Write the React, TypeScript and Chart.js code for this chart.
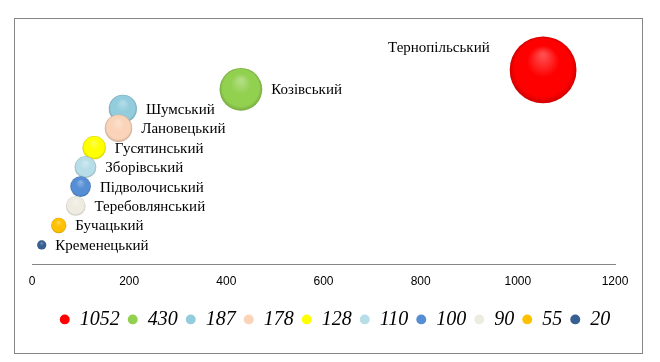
import React, { useEffect, useRef } from "react";
import { Chart, registerables } from "chart.js";

Chart.register(...registerables);

const districts = [
  "Тернопільський",
  "Козівський",
  "Шумський",
  "Лановецький",
  "Гусятинський",
  "Зборівський",
  "Підволочиський",
  "Теребовлянський",
  "Бучацький",
  "Кременецький",
];
const values = [1052, 430, 187, 178, 128, 110, 100, 90, 55, 20];
const ranks = [10, 9, 8, 7, 6, 5, 4, 3, 2, 1];
const colors = [
  "#FF0000",
  "#92D050",
  "#93CDDD",
  "#FAD3B8",
  "#FFFF00",
  "#B7DEE8",
  "#558ED5",
  "#EEECE1",
  "#FFC000",
  "#376092",
];
const xTicks = [0, 200, 400, 600, 800, 1000, 1200];

function mix(hex: string, target: number, t: number): string {
  const n = parseInt(hex.slice(1), 16);
  const r = (n >> 16) & 255;
  const g = (n >> 8) & 255;
  const b = n & 255;
  const f = (c: number) => Math.round(c + (target - c) * t);
  return `rgb(${f(r)},${f(g)},${f(b)})`;
}

const sphereFill = (i: number) => (ctx: any) => {
  const base = colors[i];
  if (ctx.type !== "data" || !ctx.raw) return base;
  const chart = ctx.chart;
  const xs = chart.scales && chart.scales.x;
  const ys = chart.scales && chart.scales.y;
  if (!xs || !ys) return base;
  const cx = xs.getPixelForValue(ctx.raw.x);
  const cy = ys.getPixelForValue(ctx.raw.y);
  const r = Math.sqrt(ctx.raw.x) * 1.03;
  if (![cx, cy, r].every((n) => Number.isFinite(n))) return base;
  const g = chart.ctx.createRadialGradient(
    cx,
    cy - r * 0.45,
    r * 0.05,
    cx,
    cy,
    r
  );
  g.addColorStop(0, mix(base, 255, 0.3));
  g.addColorStop(0.45, base);
  g.addColorStop(0.85, base);
  g.addColorStop(1, mix(base, 0, 0.18));
  return g;
};

const labelPlugin = {
  id: "bubbleLabels",
  afterDatasetsDraw(chart: any) {
    const ctx = chart.ctx;
    ctx.save();
    ctx.font = "15px 'Liberation Serif', serif";
    ctx.fillStyle = "#000";
    ctx.textBaseline = "middle";
    chart.data.datasets.forEach((_ds: any, i: number) => {
      const meta = chart.getDatasetMeta(i);
      const el = meta.data[0];
      if (!el) return;
      const r = el.options.radius;
      if (i === 0) {
        ctx.textAlign = "right";
        ctx.fillText(districts[i], el.x - r - 20, el.y - 22);
      } else {
        ctx.textAlign = "left";
        ctx.fillText(districts[i], el.x + r + 9, el.y + 1);
      }
    });
    ctx.restore();
  },
};

export default function App() {
  const ref = useRef<HTMLCanvasElement>(null);

  useEffect(() => {
    if (!ref.current) return;
    const chart = new Chart(ref.current, {
      type: "bubble",
      data: {
        datasets: values.map((v, i) => ({
          label: String(v),
          data: [{ x: v, y: ranks[i] }],
          radius: Math.sqrt(v) * 1.03,
          backgroundColor: sphereFill(i),
          borderWidth: 0,
          order: values.length - i,
          clip: false as any,
        })),
      },
      options: {
        responsive: false,
        animation: false,
        events: [],
        layout: {
          autoPadding: false,
          padding: { left: 17, right: 4, top: 12, bottom: 13.6 },
        },
        scales: {
          x: {
            type: "linear",
            min: 0,
            max: 1200,
            afterBuildTicks: (s: any) => {
              s.ticks = xTicks.map((value) => ({ value }));
            },
            afterFit: (s: any) => {
              s.height = 37;
            },
            grid: { display: false, drawTicks: false },
            border: { display: true, color: "#868686", width: 1 },
            ticks: {
              padding: 10,
              color: "#000",
              font: { family: "'Liberation Sans', sans-serif", size: 12 },
              maxRotation: 0,
              callback: (v: any) => String(v),
            },
          },
          y: {
            type: "linear",
            position: "right",
            min: 0,
            max: 12,
            grid: { display: false, drawTicks: false },
            border: { display: false },
            ticks: { display: false },
            afterFit: (s: any) => {
              s.width = 23;
            },
          },
        },
        plugins: {
          tooltip: { enabled: false },
          legend: {
            position: "bottom",
            labels: {
              usePointStyle: true,
              boxWidth: 10,
              boxHeight: 7,
              padding: 8,
              color: "#000",
              font: {
                family: "'Liberation Serif', serif",
                size: 20,
                style: "italic",
              },
              generateLabels: (ch: any) =>
                ch.data.datasets.map((ds: any, i: number) => ({
                  text: String(ds.label),
                  fillStyle: colors[i],
                  strokeStyle: colors[i],
                  lineWidth: 0,
                  pointStyle: "circle",
                  hidden: false,
                  datasetIndex: i,
                  fontColor: "#000",
                })),
            },
          },
        },
      },
      plugins: [labelPlugin],
    } as any);
    return () => chart.destroy();
  }, []);

  return (
    <div
      style={{
        position: "absolute",
        left: 14,
        top: 18,
        width: 629,
        height: 336,
        border: "1px solid #868686",
        boxSizing: "border-box",
        background: "#fff",
      }}
    >
      <canvas ref={ref} width={627} height={334} style={{ display: "block" }} />
    </div>
  );
}
